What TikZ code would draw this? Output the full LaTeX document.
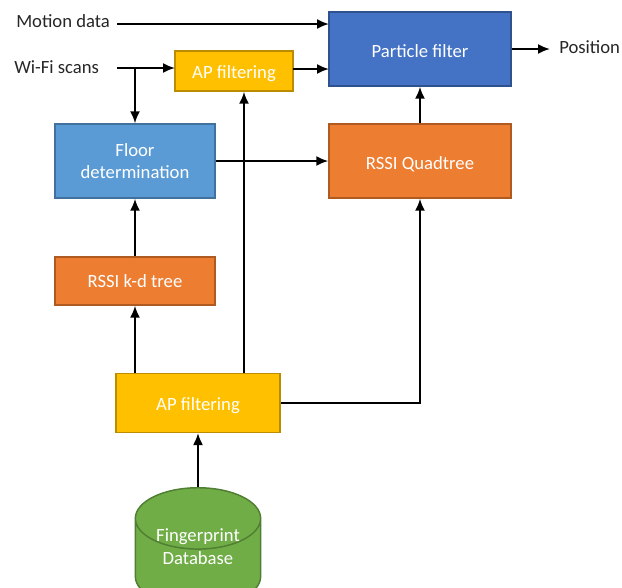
\documentclass[tikz,border=0pt]{standalone}
\usepackage{fontspec}
\setmainfont{Carlito}
\usetikzlibrary{arrows.meta,shapes.geometric}
\definecolor{pfblue}{HTML}{4472C4}
\definecolor{pfedge}{HTML}{2F528F}
\definecolor{flblue}{HTML}{5B9BD5}
\definecolor{fledge}{HTML}{41719C}
\definecolor{rssiorange}{HTML}{ED7D31}
\definecolor{rssiedge}{HTML}{AE5A21}
\definecolor{apyellow}{HTML}{FFC000}
\definecolor{apedge}{HTML}{BC8C00}
\definecolor{dbgreen}{HTML}{70AD47}
\definecolor{dbedge}{HTML}{507E32}
\tikzset{
    block/.style = {draw, rectangle, line width=1.1pt, text=white, inner sep=0pt,
        font=\fontsize{14}{17}\selectfont, align=center},
    bigblock/.style = {block, minimum width=136.5pt, minimum height=55.5pt, text height=12.5pt, text depth=0pt},
    apfilter/.style = {block, fill=apyellow, draw=apedge, text height=10.5pt, text depth=0pt},
    rssi/.style = {block, fill=rssiorange, draw=rssiedge},
    label/.style = {text=black!85, inner sep=0pt, font=\fontsize{14}{17}\selectfont},
    arrow/.style = {draw, line width=1.4pt, ->}
}
\begin{document}
\begin{tikzpicture}[x=.75pt, y=-.75pt, >={Latex[length=9pt,width=7.5pt]}]
    \useasboundingbox (0,0) rectangle (622,587);
    \node [bigblock, fill=pfblue, draw=pfedge] (pf) at (420,49) {Particle filter};
    \node [bigblock, rssi, below of=pf, node distance=84pt] (quad) {RSSI Quadtree};
    \node [block, fill=flblue, draw=fledge, minimum width=120pt, minimum height=55.5pt] (floor) at (135,161) {Floor\\ determination};
    \node [apfilter, minimum width=88.5pt, minimum height=30pt] (apscan) at (234,71) {AP filtering};
    \node [rssi, below of=floor, node distance=90pt, minimum width=120pt, minimum height=36pt] (kd) {RSSI k-d tree};
    \node [apfilter, minimum width=123pt, minimum height=44pt] (apdb) at (198,403) {AP filtering};
    \node [draw=dbedge, fill=dbgreen, line width=1.1pt, cylinder, shape border rotate=90, aspect=.73,
        cylinder uses custom fill, cylinder body fill=dbgreen, cylinder end fill=dbgreen,
        minimum width=94pt, minimum height=75pt, inner sep=0pt, anchor=north] (db) at (198,487) {\hspace*{63pt}\rule{0pt}{20pt}};
    \node [text=white, inner sep=0pt, align=center, font=\fontsize{14}{17}\selectfont] (dbtext) at (198,546.5) {Fingerprint\\ Database};
    \node [label, anchor=west] (motion) at (16,21) {Motion data};
    \node [label, anchor=west] (wifi) at (14,67) {Wi-Fi scans};
    \node [label, anchor=west] (pos) at (559,47) {Position};
    % free ends and side points
    \coordinate (motionin) at (117,24);
    \coordinate (motionpf) at (329,24);
    \coordinate (wifiin) at (117,68);
    \coordinate (wifiap) at (175,68);
    \coordinate (wifibr) at (135,68);
    \coordinate (apout) at (293,69);
    \coordinate (appf) at (329,69);
    \coordinate (posout) at (550,49);
    \coordinate (dbkd) at (135,373);
    \coordinate (dbap) at (244,373);
    \draw [arrow] (motionin) -- (motionpf);
    \draw [arrow] (wifiin) -- (wifiap);
    \draw [arrow] (wifibr) -- (wifibr |- floor.north);
    \draw [arrow] (apout) -- (appf);
    \draw [arrow] (pf.east) -- (posout);
    \draw [arrow] (floor.east) -- (quad.west);
    \draw [arrow] (quad.north) -- (pf.south);
    \draw [arrow] (kd.north) -- (floor.south);
    \draw [arrow] (dbkd) -- (dbkd |- kd.south);
    \draw [arrow] (dbap) -- (dbap |- apscan.south);
    \draw [arrow] (apdb.east) -| (quad.south);
    \draw [arrow] (db.north) -- (apdb.south);
\end{tikzpicture}
\end{document}
